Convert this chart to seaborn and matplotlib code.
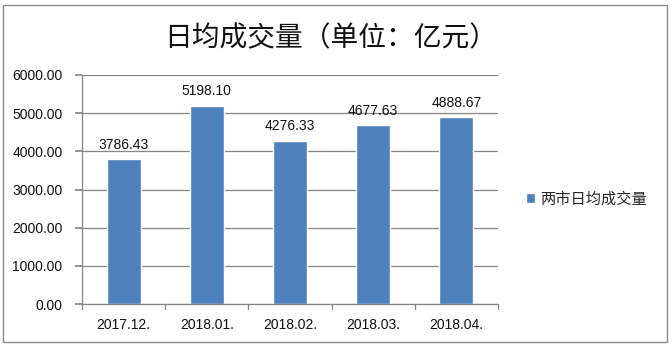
import matplotlib
matplotlib.use("Agg")
import matplotlib.pyplot as plt
import seaborn as sns
import pandas as pd
from matplotlib.patches import Rectangle

categories = ["2017.12.", "2018.01.", "2018.02.", "2018.03.", "2018.04."]
values = [3786.43, 5198.10, 4276.33, 4677.63, 4888.67]
series_name = "两市日均成交量"
title = "日均成交量（单位：亿元）"
yticks = [0, 1000, 2000, 3000, 4000, 5000, 6000]

sns.set_theme(style="white")
plt.rcParams['font.family'] = ['Noto Sans CJK SC', 'DejaVu Sans']
NUMFONT = ["Liberation Sans", "DejaVu Sans"]

df = pd.DataFrame({"month": categories, "value": values})

W, H = 672, 347
fig = plt.figure(figsize=(W / 100, H / 100), dpi=100)
fig.patch.set_facecolor("white")

# outer border
fig.add_artist(Rectangle((3 / W, 1 - 342 / H), (667 - 3) / W, (342 - 5) / H,
                         transform=fig.transFigure, fill=False,
                         edgecolor="#8c8c8c", linewidth=1.0))

ax = fig.add_axes([82 / W, 1 - 304 / H, (498 - 82) / W, (304 - 75) / H])
sns.barplot(data=df, x="month", y="value", color="#4F81BD", width=0.41,
            saturation=1, ax=ax, label=series_name)
ax.set_ylim(0, 6000)
ax.set_xlim(-0.5, len(categories) - 0.5)
ax.set_yticks(yticks)
ax.set_yticklabels([f"{v:.2f}" for v in yticks], fontsize=10, family=NUMFONT, color="#111111")
ax.set_xticks([i for i in range(len(categories))])
ax.set_xticklabels(categories, fontsize=10, family=NUMFONT, color="#111111")
ax.tick_params(axis="x", length=0, pad=10)
ax.tick_params(axis="y", length=5, color="#868686", pad=9, left=True)
# category separators on x axis
for b in range(len(categories) + 1):
    ax.plot([b - 0.5, b - 0.5], [0, -120], color="#868686", lw=0.9, clip_on=False)
ax.set_xlabel("")
ax.set_ylabel("")
ax.yaxis.grid(True, color="#868686", linewidth=0.9)
ax.set_axisbelow(True)
for s in ["top", "right"]:
    ax.spines[s].set_visible(False)
ax.spines["left"].set_color("#868686")
ax.spines["bottom"].set_color("#868686")
ax.spines["left"].set_linewidth(0.9)
ax.spines["bottom"].set_linewidth(0.9)

for i, v in enumerate(values):
    ax.text(i, v + 200, f"{v:.2f}", ha="center", va="bottom", fontsize=10,
            family=NUMFONT, color="#111111")

ax.legend(loc="center left", bbox_to_anchor=((520 - 82) / (498 - 82), (304 - 199) / (304 - 75)),
          frameon=False, fontsize=11, handlelength=0.6, handleheight=0.6,
          handletextpad=0.3, borderaxespad=0)

fig.text(331 / W, 1 - 38 / H, title, ha="center", va="center", fontsize=20, color="#111111")

fig.savefig("out.png", dpi=100, facecolor="white")
